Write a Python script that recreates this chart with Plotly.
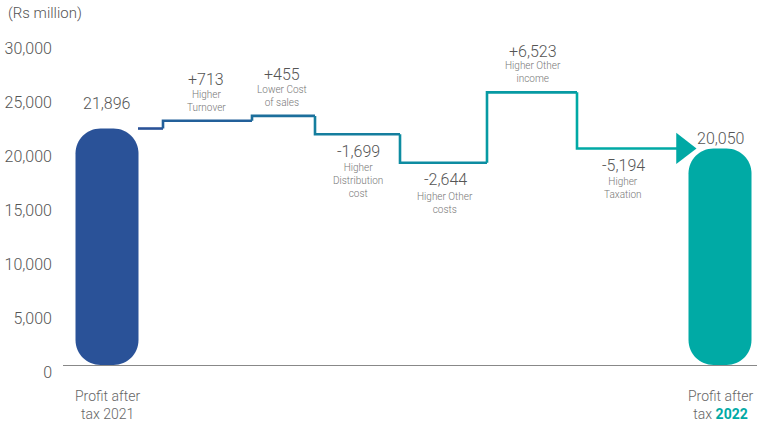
import plotly.graph_objects as go

# ---------------- data ----------------
bar_names = ["Profit after<br>tax 2021", "Profit after<br>tax <b style='color:#00a9a5'>2022</b>"]
bar_values = [21896, 20050]
change_values = [713, 455, -1699, -2644, 6523, -5194]
change_labels = ["Higher<br>Turnover", "Lower Cost<br>of sales", "Higher<br>Distribution<br>cost",
                 "Higher Other<br>costs", "Higher Other<br>income", "Higher<br>Taxation"]
y_ticks = [0, 5000, 10000, 15000, 20000, 25000, 30000]
y_tick_text = ["0", "5,000", "10,000", "15,000", "20,000", "25,000", "30,000"]
unit_label = "(Rs million)"

# ---------------- layout constants (x axis in layout units) ----------------
BAR_X = [107, 720]
BAR_HALF_W = 31.5
STEP_X = [163, 252, 315, 400, 487, 577]
LINE_START = 138
LINE_END = 680
ARROW_X = 683
LABEL_X = [206, 282, 358, 445, 533, 623]
BAR_COLORS = ["#2a5298", "#00aaa5"]
FONT = "Roboto, Liberation Sans, Arial, sans-serif"
W = 300
Y_MAX = 30000
PLOT_H_PX = 324
CORNER_PX = 25

def mix(c1, c2, t):
    a = [int(c1[i:i + 2], 16) for i in (1, 3, 5)]
    b = [int(c2[i:i + 2], 16) for i in (1, 3, 5)]
    return "#" + "".join(f"{round(a[k] + (b[k] - a[k]) * t):02x}" for k in range(3))

def pill_path(cx, top, hw, r_px):
    rx = r_px
    ry = r_px * Y_MAX / PLOT_H_PX
    k = 0.552
    L, R = cx - hw, cx + hw
    return (f"M {L},{ry} L {L},{top - ry} "
            f"C {L},{top - ry + k * ry} {L + rx - k * rx},{top} {L + rx},{top} "
            f"L {R - rx},{top} "
            f"C {R - rx + k * rx},{top} {R},{top - ry + k * ry} {R},{top - ry} "
            f"L {R},{ry} "
            f"C {R},{ry - k * ry} {R - rx + k * rx},0 {R - rx},0 "
            f"L {L + rx},0 "
            f"C {L + rx - k * rx},0 {L},{ry - k * ry} {L},{ry} Z")

fig = go.Figure()

shapes = []
for cx, v, col in zip(BAR_X, bar_values, BAR_COLORS):
    shapes.append(dict(type="path", xref="x", yref="y", path=pill_path(cx, v, BAR_HALF_W, CORNER_PX),
                       fillcolor=col, line=dict(width=0), layer="above"))

levels = [bar_values[0]]
for c in change_values:
    levels.append(levels[-1] + c)

xs_bounds = STEP_X + [LINE_END]
n = len(change_values)
fig.add_trace(go.Scatter(x=[LINE_START, STEP_X[0]], y=[levels[0], levels[0]], mode="lines",
                         line=dict(color=mix("#2a5298", "#00a9a5", 0.0), width=2.6),
                         hoverinfo="skip", showlegend=False))
for i in range(n):
    col = mix("#2a5298", "#00a9a5", (i + 1) / n)
    fig.add_trace(go.Scatter(x=[xs_bounds[i], xs_bounds[i], xs_bounds[i + 1]],
                             y=[levels[i], levels[i + 1], levels[i + 1]],
                             mode="lines", line=dict(color=col, width=2.6),
                             hoverinfo="skip", showlegend=False))
fig.add_trace(go.Scatter(x=[ARROW_X], y=[levels[-1]], mode="markers",
                         marker=dict(symbol="triangle-right", size=27, color="#00a9a5"),
                         hoverinfo="skip", showlegend=False))

ann = []
for i, c in enumerate(change_values):
    lvl = levels[i + 1]
    num = f"{c:+,}"
    if c > 0:
        ann.append(dict(x=LABEL_X[i], y=lvl, text=num, yanchor="middle", yshift=41,
                        font=dict(size=16, color="#555", weight=W)))
        ann.append(dict(x=LABEL_X[i], y=lvl, text=change_labels[i], yanchor="bottom", yshift=6,
                        font=dict(size=10, color="#777", weight=W)))
    else:
        ann.append(dict(x=LABEL_X[i], y=lvl, text=num, yanchor="middle", yshift=-17,
                        font=dict(size=16, color="#555", weight=W)))
        ann.append(dict(x=LABEL_X[i], y=lvl, text=change_labels[i], yanchor="top", yshift=-26,
                        font=dict(size=10, color="#777", weight=W)))
for x, v, sh in zip(BAR_X, bar_values, [25, 10]):
    ann.append(dict(x=x, y=v, text=f"{v:,}", yanchor="middle", yshift=sh,
                    font=dict(size=16, color="#555", weight=W)))
for x, name in zip(BAR_X, bar_names):
    ann.append(dict(x=x, y=0, text=name, yanchor="top", yshift=-21,
                    font=dict(size=14, color="#666", weight=W)))
for a in ann:
    a.update(xref="x", yref="y", showarrow=False, align="center", xanchor="center")

ann.append(dict(xref="paper", yref="paper", x=-0.082, y=1.086, xanchor="left", yanchor="middle",
                text=unit_label, showarrow=False, font=dict(size=15, color="#555", weight=W)))

fig.update_layout(
    width=757, height=422,
    margin=dict(l=63, r=0, t=41, b=57),
    paper_bgcolor="white", plot_bgcolor="white",
    font=dict(family=FONT, color="#555", weight=W),
    annotations=ann,
    shapes=shapes,
    xaxis=dict(range=[63, 757], showgrid=False, zeroline=False, showticklabels=False,
               showline=True, linecolor="#888", linewidth=1, fixedrange=True),
    yaxis=dict(range=[0, Y_MAX], tickvals=y_ticks, ticktext=y_tick_text, showgrid=False,
               zeroline=False, showline=False, tickfont=dict(size=16, color="#555", weight=W),
               ticklabelshift=7, ticklabelstandoff=10, fixedrange=True),
    showlegend=False,
)

fig.write_html("out.html")
